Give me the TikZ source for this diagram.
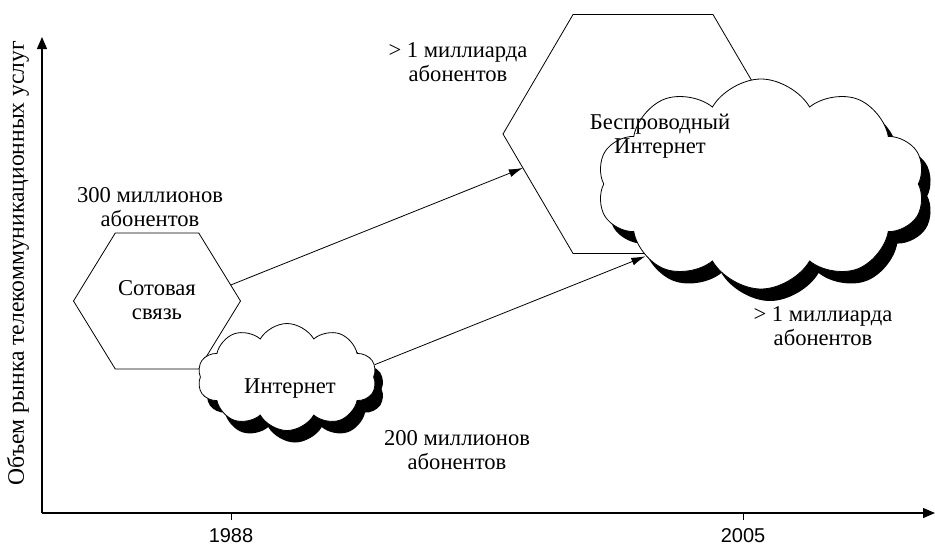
\documentclass[tikz,border=0pt]{standalone}
\usepackage{fontspec}
\setmainfont{Liberation Serif}
\setsansfont{Liberation Sans}
\usetikzlibrary{shapes.geometric}
\usetikzlibrary{shapes.symbols}
\usetikzlibrary{shadows}
\usetikzlibrary{arrows.meta}

\begin{document}
\begin{tikzpicture}[x=0.5pt, y=-0.5pt,
		h/.style={regular polygon, regular polygon sides=6, draw, fill=white, inner sep=0pt, outer sep=0pt},
		c/.style 2 args={cloud, cloud puffs=10, cloud puff arc=120, draw, fill=white, inner sep=0pt,
			drop shadow={shadow xshift=#1, shadow yshift=#2, fill=black, opacity=1}},
		r/.style={-{Latex[length=7pt, width=4pt]}, thin},
		ax/.style={-{Triangle[length=6pt, width=5pt]}, semithick},
		t/.style={align=center, font=\fontsize{11.3}{12.2}\selectfont},
		yr/.style={font=\sffamily\fontsize{10}{12}\selectfont},
		]
	\useasboundingbox (0,0) rectangle (935,546);

	% axes
	\coordinate (o)    at (42,513);
	\coordinate (ytop) at (42,37);
	\coordinate (xend) at (935,513);
	\draw[ax] (o) -- (ytop);
	\draw[ax] (o) -- (xend);
	\draw (231,513) -- (231,520);
	\draw (743,513) -- (743,520);
	\node[yr] (y1988) at (231,536) {1988};
	\node[yr] (y2005) at (743,536) {2005};
	\node[t, font=\fontsize{11.8}{13}\selectfont, rotate=90] (ylab) at (18,263) {Объем рынка телекоммуникационных услуг};

	% shapes
	\node[h, minimum size=83.5pt, yscale=0.94] (cell) at (157,301) {};
	\node[h, minimum size=140pt, yscale=0.985] (wifi) at (643,134) {};
	\node[c={4pt}{-6pt}, minimum width=89.5pt, minimum height=53.5pt]   (inet)   at (287,377) {};
	\node[c={4.5pt}{-6pt}, minimum width=164pt, minimum height=105pt] (wcloud) at (761,184) {};

	% arrows
	\draw[r] (cell.13) -- (wifi.196);
	\draw[r] (inet.8)  -- (wcloud.212);

	% texts
	\node[t] (cell-t)   at (157,300) {Сотовая\\связь};
	\node[t] (cell-n)   at (150,207) {300 миллионов\\абонентов};
	\node[t] (inet-t)   at (290,388) {Интернет};
	\node[t] (inet-n)   at (457,450) {200 миллионов\\абонентов};
	\node[t] (wifi-t)   at (660,136) {Беспроводный\\Интернет};
	\node[t] (wifi-n)   at (458,62)  {> 1 миллиарда\\абонентов};
	\node[t] (wcloud-n) at (823,326) {> 1 миллиарда\\абонентов};
\end{tikzpicture}
\end{document}
